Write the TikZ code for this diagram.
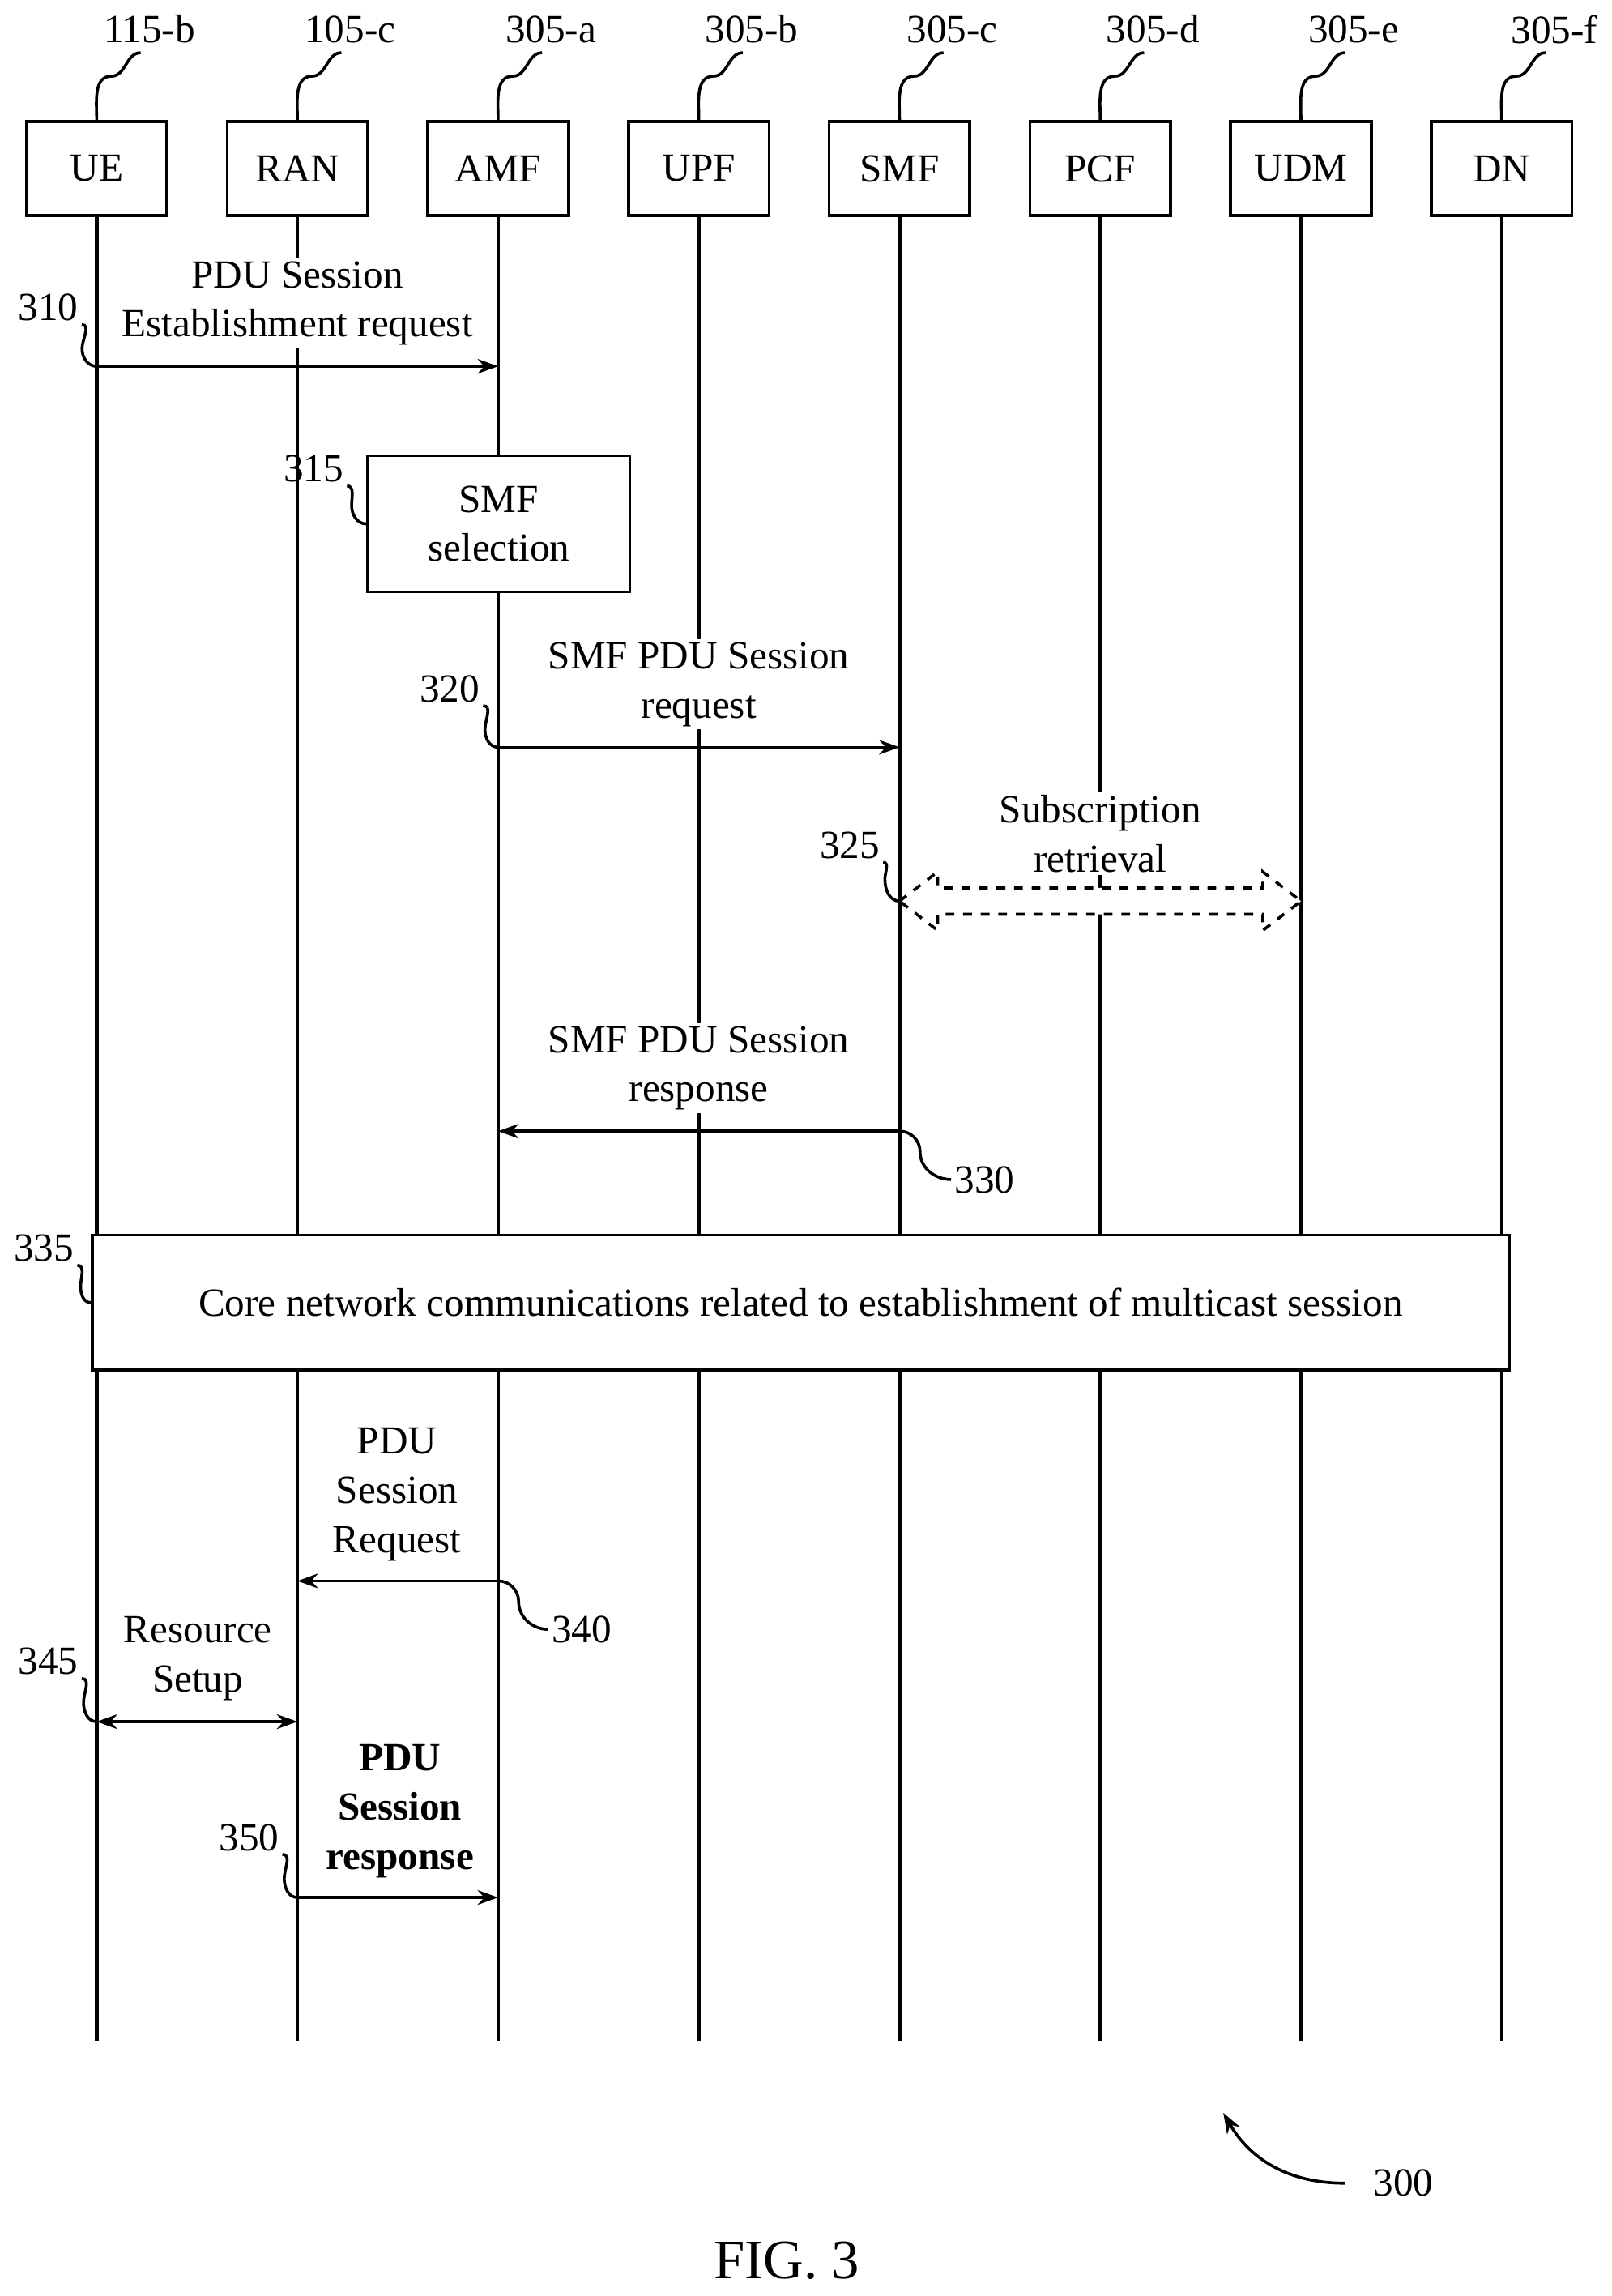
\documentclass[tikz,border=0pt]{standalone}
\usepackage{fontspec}
\setmainfont{Liberation Serif}
\usetikzlibrary{arrows.meta}
\begin{document}
\begin{tikzpicture}[x=0.5pt,y=-0.5pt,
  every node/.style={font=\fontsize{13.6}{16.8}\selectfont, align=center, inner sep=1pt},
  ent/.style={draw, line width=1pt, minimum width=48pt, minimum height=32pt, fill=white},
  life/.style={line width=1.2pt},
  msg/.style={line width=1pt, -{Stealth[length=7pt,width=5pt]}},
  lbl/.style={fill=white},
  sq/.style={line width=1pt}]
\useasboundingbox (0,0) rectangle (1100,1567);
\foreach \n/\t/\x/\id in {ue/UE/66/115-b, ran/RAN/203/105-c, amf/AMF/340/305-a, upf/UPF/477/305-b, smf/SMF/614/305-c, pcf/PCF/751/305-d, udm/UDM/888/305-e, dn/DN/1025/305-f}{
  \coordinate (\n b) at (\x,1393);
  \draw[life] (\x,147) -- (\n b);
  \node[ent] (\n) at (\x,115) {\t};
  \node (\n id) at (\x+36,20) {\id};
  \draw[sq] (\x+30,36) to[out=180,in=0] (\x+10,52) to[out=180,in=90] (\n.north);
}
% 310
\coordinate (a310) at (66,250); \coordinate (b310) at (340,250);
\draw[msg] (a310) -- (b310);
\node[lbl] (l310) at (203,207) {PDU Session\\Establishment request};
\node (n310) at (33,210) {310};
\draw[sq] (n310.south east) to[out=0,in=90] (56,238) to[out=-90,in=180] (a310);
% 315
\node[draw, line width=1pt, fill=white, minimum width=89.5pt, minimum height=46.5pt] (s315) at (340.5,357.5) {SMF\\selection};
\node (n315) at (214,320) {315};
\draw[sq] (n315.south east) to[out=0,in=90] (240,345) to[out=-90,in=180] (s315.west);
% 320
\coordinate (a320) at (340,510); \coordinate (b320) at (614,510);
\draw[msg] (a320) -- (b320);
\node[lbl] (l320) at (477,467) {SMF PDU Session\\request};
\node (n320) at (307,470) {320};
\draw[sq] (n320.south east) to[out=0,in=90] (331,498) to[out=-90,in=180] (a320);
% 325
\node[lbl] (l325) at (751,569) {Subscription\\retrieval};
\coordinate (a325) at (614,615); \coordinate (b325) at (888,615);
\draw[line width=1pt, dashed, fill=white] (a325) -- (640,595) -- (640,606) -- (862,606) -- (862,595) -- (b325) -- (862,635) -- (862,624) -- (640,624) -- (640,635) -- cycle;
\node (n325) at (580,577) {325};
\draw[sq] (n325.south east) to[out=0,in=90] (604,600) to[out=-90,in=180] (a325);
% 330
\coordinate (a330) at (614,772); \coordinate (b330) at (340,772);
\draw[msg] (a330) -- (b330);
\node[lbl] (l330) at (477,729) {SMF PDU Session\\response};
\node (n330) at (672,805) {330};
\draw[sq] (a330) to[out=0,in=90] (628,786) to[out=-90,in=180] (n330.west);
% 335
\node[draw, line width=1pt, fill=white, minimum width=483.5pt, minimum height=46pt] (b335) at (546.5,889) {Core network communications related to establishment of multicast session};
\node (n335) at (30,852) {335};
\draw[sq] (n335.south east) to[out=0,in=90] (55,878) to[out=-90,in=180] (b335.west);
% 340
\coordinate (a340) at (340,1079); \coordinate (b340) at (203,1079);
\draw[msg] (a340) -- (b340);
\node[lbl] (l340) at (271,1020) {PDU\\Session\\Request};
\node (n340) at (397,1112) {340};
\draw[sq] (a340) to[out=0,in=90] (354,1093) to[out=-90,in=180] (n340.west);
% 345
\coordinate (a345) at (66,1175); \coordinate (b345) at (203,1175);
\draw[msg, {Stealth[length=7pt,width=5pt]}-{Stealth[length=7pt,width=5pt]}] (a345) -- (b345);
\node[lbl] (l345) at (135,1132) {Resource\\Setup};
\node (n345) at (33,1134) {345};
\draw[sq] (n345.south east) to[out=0,in=90] (57,1162) to[out=-90,in=180] (a345);
% 350
\coordinate (a350) at (203,1295); \coordinate (b350) at (340,1295);
\draw[msg] (a350) -- (b350);
\node[lbl, font=\fontsize{13.6}{16.8}\selectfont\bfseries] (l350) at (273,1236) {PDU\\Session\\response};
\node (n350) at (170,1254) {350};
\draw[sq] (n350.south east) to[out=0,in=90] (194,1282) to[out=-90,in=180] (a350);
% 300
\node (n300) at (958,1490) {300};
\coordinate (t300) at (835,1442);
\draw[line width=1pt, -{Stealth[length=7pt,width=5pt]}] (918,1490) to[out=180,in=-60] (t300);
\node[font=\fontsize{19}{21}\selectfont] (fig) at (537,1543) {FIG. 3};
\end{tikzpicture}
\end{document}
